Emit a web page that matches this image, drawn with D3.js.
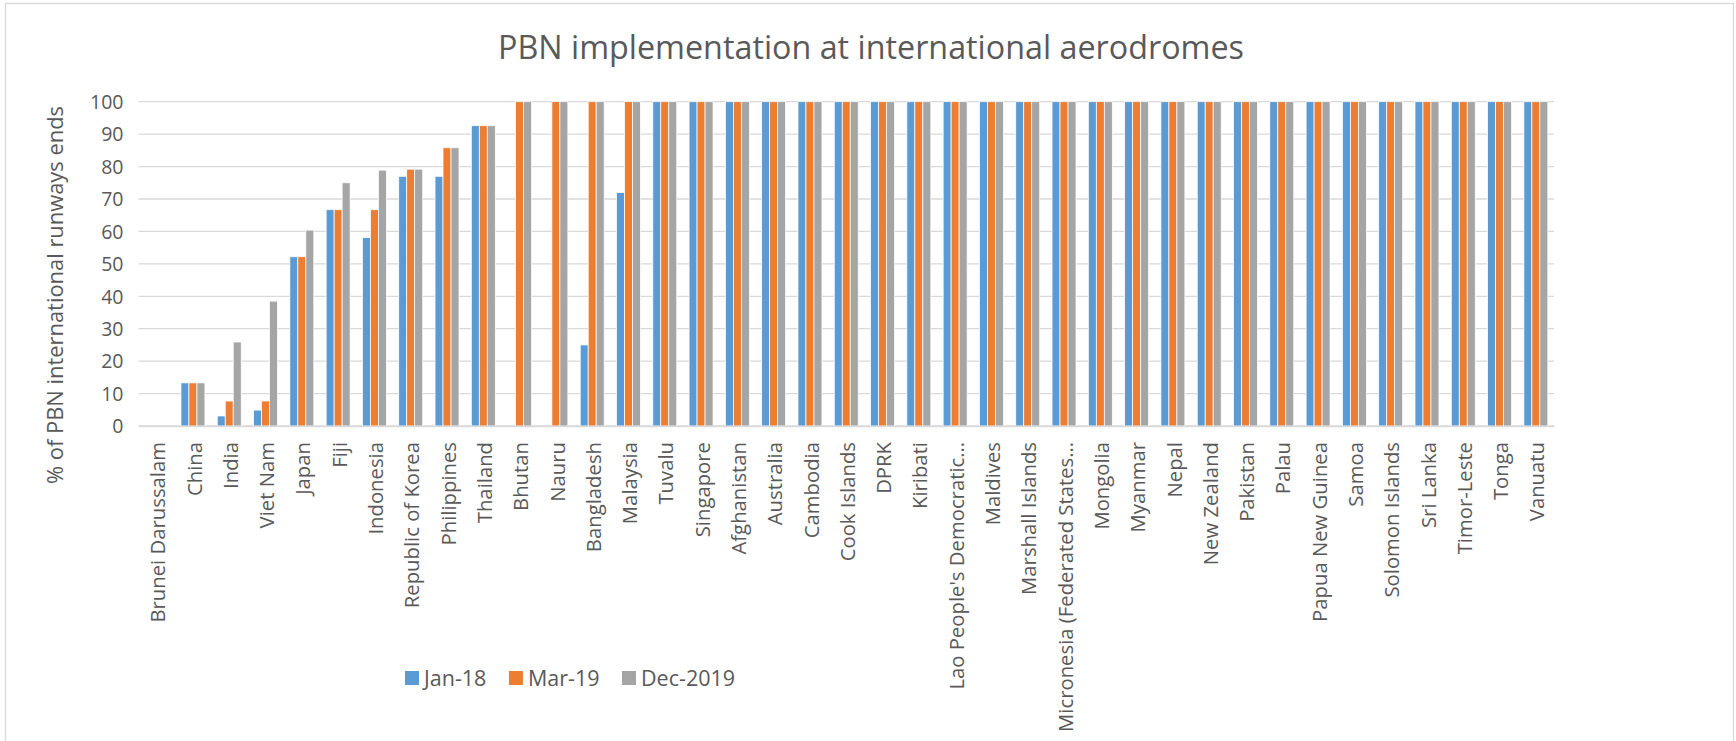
<!DOCTYPE html>
<html>
<head>
<meta charset="utf-8">
<script src="https://cdn.jsdelivr.net/npm/d3@7"></script>
<style>
  html, body { margin: 0; padding: 0; background: #fff; }
  svg { display: block; }
  text { font-family: "Open Sans", sans-serif; fill: #595959; }
</style>
</head>
<body>
<svg id="chart" width="1736" height="741"></svg>
<script>
const title = "PBN implementation at international aerodromes";
const yAxisTitle = "% of PBN international runways ends";
const categories = ["Brunei Darussalam","China","India","Viet Nam","Japan","Fiji","Indonesia","Republic of Korea","Philippines","Thailand","Bhutan","Nauru","Bangladesh","Malaysia","Tuvalu","Singapore","Afghanistan","Australia","Cambodia","Cook Islands","DPRK","Kiribati","Lao People's Democratic…","Maldives","Marshall Islands","Micronesia (Federated States…","Mongolia","Myanmar","Nepal","New Zealand","Pakistan","Palau","Papua New Guinea","Samoa","Solomon Islands","Sri Lanka","Timor-Leste","Tonga","Vanuatu"];
const seriesNames = ["Jan-18","Mar-19","Dec-2019"];
const jan18 = [0,13.3,3.1,4.9,52.2,66.7,58.1,77,77,92.6,0,0,25,72,100,100,100,100,100,100,100,100,100,100,100,100,100,100,100,100,100,100,100,100,100,100,100,100,100];
const mar19 = [0,13.3,7.7,7.7,52.2,66.7,66.7,79.2,85.8,92.6,100,100,100,100,100,100,100,100,100,100,100,100,100,100,100,100,100,100,100,100,100,100,100,100,100,100,100,100,100];
const dec19 = [0,13.3,25.9,38.5,60.4,75,78.9,79.2,85.8,92.6,100,100,100,100,100,100,100,100,100,100,100,100,100,100,100,100,100,100,100,100,100,100,100,100,100,100,100,100,100];
const yTicks = [0,10,20,30,40,50,60,70,80,90,100];
const colors = ["#5b9bd5","#ed7d31","#a5a5a5"];

(function () {
const seriesValues = [jan18, mar19, dec19];
const svg = d3.select("#chart");

// outer border
svg.append("rect").attr("x",5.5).attr("y",3.5).attr("width",1728).attr("height",760)
  .attr("fill","none").attr("stroke","#d9d9d9").attr("stroke-width",1.3);

const pLeft = 138.5, pRight = 1554, pTop = 101.7, pBottom = 426;

const x0 = d3.scaleBand().domain(categories).range([pLeft, pRight]).paddingInner(0.34).paddingOuter(0.17);
const x1 = d3.scaleBand().domain(seriesNames).range([0, x0.bandwidth()]);
const y = d3.scaleLinear().domain([0, 100]).range([pBottom, pTop]);

// gridlines
svg.append("g").selectAll("line").data(yTicks).join("line")
  .attr("x1", pLeft).attr("x2", pRight)
  .attr("y1", d => y(d)).attr("y2", d => y(d))
  .attr("stroke", "#d9d9d9").attr("stroke-width", 1.3);

// y axis
const yAxis = svg.append("g").attr("transform", `translate(${pLeft - 8},0)`)
  .call(d3.axisLeft(y).tickValues(yTicks).tickSize(0).tickPadding(0));
yAxis.select(".domain").remove();
yAxis.selectAll("text").attr("font-size", 19.5).attr("fill", "#595959")
  .attr("font-family", "Open Sans, sans-serif").attr("dy", "0.35em").attr("x", -7);

// bars
const groups = svg.append("g").selectAll("g").data(categories).join("g")
  .attr("transform", d => `translate(${x0(d)},0)`);
groups.selectAll("rect")
  .data((c, i) => seriesNames.map((s, k) => ({s, k, v: seriesValues[k][i]})).filter(d => d.v > 0))
  .join("rect")
  .attr("x", d => x1(d.s))
  .attr("width", x1.bandwidth())
  .attr("y", d => y(d.v))
  .attr("height", d => y(0) - y(d.v))
  .attr("fill", d => colors[d.k])
  .attr("stroke", "#fff").attr("stroke-width", 0.75);

// x axis
const xAxis = svg.append("g").attr("transform", `translate(0,${pBottom})`)
  .call(d3.axisBottom(x0).tickSize(0).tickPadding(0));
xAxis.select(".domain").attr("stroke", "#d9d9d9").attr("stroke-width", 1.3);
xAxis.selectAll("text")
  .attr("font-size", 20.3).attr("fill", "#595959").attr("font-family", "Open Sans, sans-serif")
  .attr("text-anchor", "end")
  .attr("transform", "translate(1.5,16) rotate(-90)")
  .attr("x", 0).attr("y", 0).attr("dy", "0.35em");

// title
svg.append("text").attr("x", 871).attr("y", 58.5).attr("text-anchor", "middle")
  .attr("font-size", 32.3).text(title);

// y axis title
svg.append("text").attr("transform", `translate(63,295) rotate(-90)`)
  .attr("text-anchor", "middle").attr("font-size", 21.9).text(yAxisTitle);

// legend
const legend = svg.append("g").attr("transform", "translate(405,671)");
let lx = 0;
seriesNames.forEach((s, k) => {
  const g = legend.append("g").attr("transform", `translate(${lx},0)`);
  g.append("rect").attr("width", 14).attr("height", 14).attr("fill", colors[k]);
  const t = g.append("text").attr("x", 19).attr("y", 7).attr("dy", "0.36em")
    .attr("font-size", 21.5).text(s);
  lx += 19 + t.node().getComputedTextLength() + 22.5;
});
})();
</script>
</body>
</html>
